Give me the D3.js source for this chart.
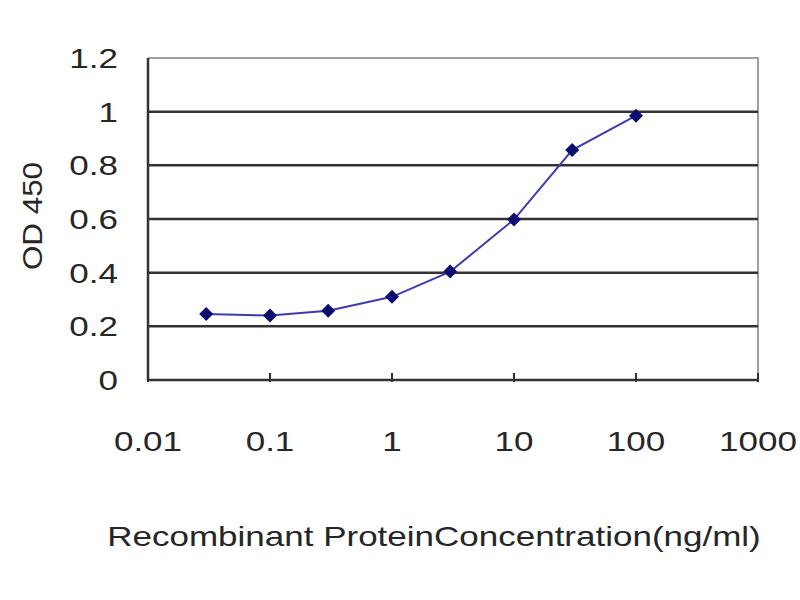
<!DOCTYPE html>
<html>
<head>
<meta charset="utf-8">
<script src="https://cdn.jsdelivr.net/npm/d3@7"></script>
<style>
  body { margin: 0; background: #fff; }
  text { font-family: "Liberation Sans", Arial, sans-serif; fill: #262626; }
</style>
</head>
<body>
<svg id="chart" width="800" height="600"></svg>
<script>
// concentration (ng/ml) and measured OD 450
const concentrations = [0.03, 0.1, 0.3, 1, 3, 10, 30, 100];
const odValues = [0.246, 0.24, 0.258, 0.31, 0.404, 0.598, 0.857, 0.985];
const yTicks = [0, 0.2, 0.4, 0.6, 0.8, 1, 1.2];
const xTicks = [0.01, 0.1, 1, 10, 100, 1000];
const xTitle = "Recombinant ProteinConcentration(ng/ml)";
const yTitle = "OD 450";

const svg = d3.select("#chart");
const plotLeft = 148, plotRight = 758, plotTop = 58, plotBottom = 380;
const stretch = 1.25; // the source text is drawn wide

let x = d3.scaleLog().domain([0.01, 1000]).range([plotLeft, plotRight]);
let y = d3.scaleLinear().domain([0, 1.2]).range([plotBottom, plotTop]);

// plot frame: gray top and right
svg.append("path")
    .attr("d", `M${plotLeft},${plotTop}H${plotRight}V${plotBottom}`)
    .attr("fill", "none")
    .attr("stroke", "#a0a0a0")
    .attr("stroke-width", 2);

// horizontal gridlines
svg.append("g")
    .selectAll("line")
    .data(yTicks.filter(d => d > 0 && d < 1.2))
    .join("line")
    .attr("x1", plotLeft).attr("x2", plotRight)
    .attr("y1", d => y(d)).attr("y2", d => y(d))
    .attr("stroke", "#333")
    .attr("stroke-width", 2.5);

// left axis line
svg.append("line")
    .attr("x1", plotLeft).attr("x2", plotLeft)
    .attr("y1", plotTop).attr("y2", plotBottom)
    .attr("stroke", "#333").attr("stroke-width", 2.5);

// bottom axis with decade ticks
svg.append("line")
    .attr("x1", plotLeft).attr("x2", plotRight)
    .attr("y1", plotBottom).attr("y2", plotBottom)
    .attr("stroke", "#333").attr("stroke-width", 2.5);

svg.append("g")
    .selectAll("line")
    .data(xTicks)
    .join("line")
    .attr("x1", d => x(d)).attr("x2", d => x(d))
    .attr("y1", plotBottom - 7).attr("y2", plotBottom + 2)
    .attr("stroke", "#333").attr("stroke-width", 2);

// y tick labels
svg.append("g")
    .selectAll("text")
    .data(yTicks)
    .join("text")
    .attr("transform", d => `translate(118,${y(d)}) scale(${stretch},1)`)
    .attr("dy", "0.36em")
    .attr("text-anchor", "end")
    .attr("font-size", 28)
    .text(d => d3.format("~g")(d));

// x tick labels
svg.append("g")
    .selectAll("text")
    .data(xTicks)
    .join("text")
    .attr("transform", d => `translate(${x(d)},451) scale(${stretch},1)`)
    .attr("text-anchor", "middle")
    .attr("font-size", 28)
    .text(d => String(d));

// axis titles
svg.append("text")
    .attr("transform", `translate(434,546) scale(${stretch},1)`)
    .attr("text-anchor", "middle")
    .attr("font-size", 28)
    .text(xTitle);

svg.append("text")
    .attr("transform", `translate(42,216) rotate(-90) scale(1.12,1)`)
    .attr("text-anchor", "middle")
    .attr("font-size", 28)
    .text(yTitle);

// data line and markers
let points = concentrations.map((c, i) => [c, odValues[i]]);

svg.append("path")
    .datum(points)
    .attr("d", d3.line().x(d => x(d[0])).y(d => y(d[1])))
    .attr("fill", "none")
    .attr("stroke", "#3c3cae")
    .attr("stroke-width", 2);

svg.append("g")
    .selectAll("path")
    .data(points)
    .join("path")
    .attr("transform", d => `translate(${x(d[0])},${y(d[1])})`)
    .attr("d", d3.symbol().type(d3.symbolDiamond2).size(125))
    .attr("fill", "#0c0c70");
</script>
</body>
</html>
